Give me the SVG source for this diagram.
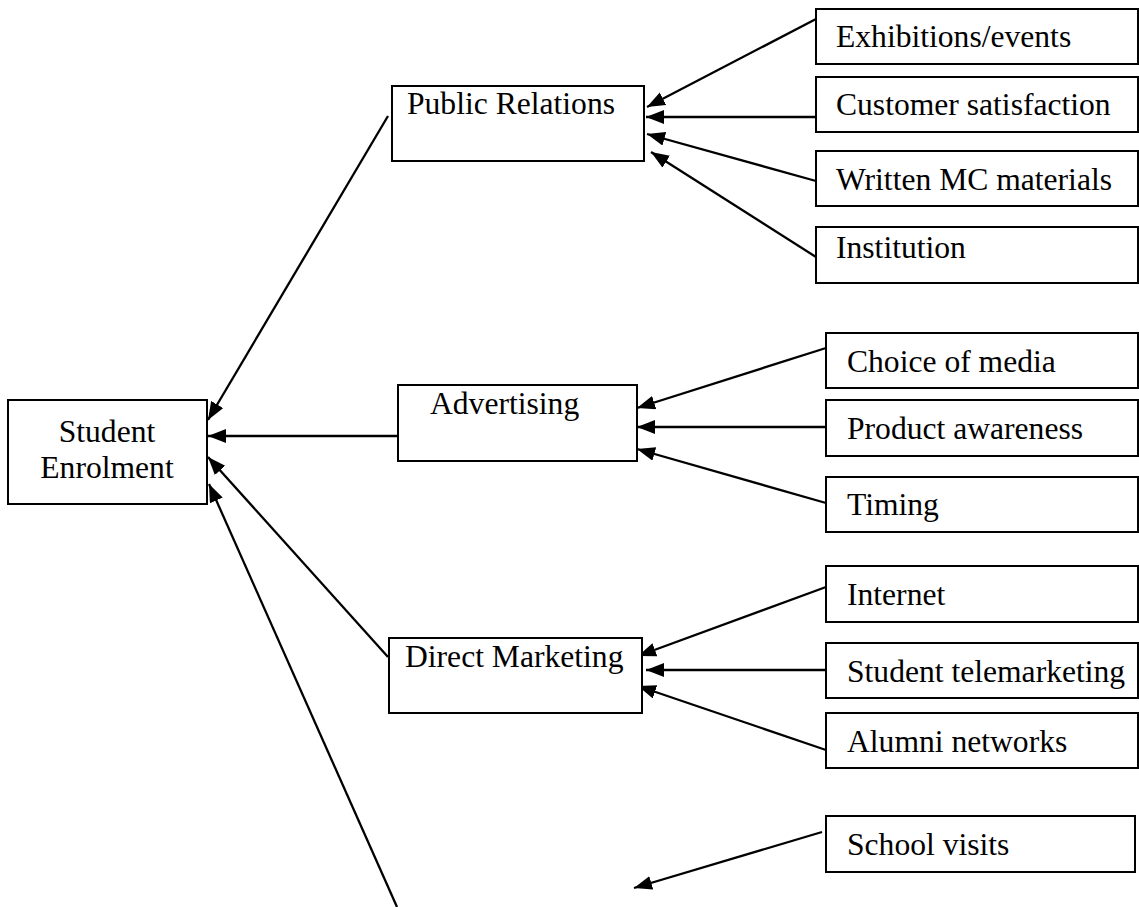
<svg xmlns="http://www.w3.org/2000/svg" width="1139" height="907" viewBox="0 0 1139 907">
<style>
.box{fill:#fff;stroke:#000;stroke-width:2}
.t{font-family:"Liberation Serif","Times New Roman",serif;font-size:31.6px;fill:#000}
.c{stroke:#000;stroke-width:2.3;fill:none;marker-end:url(#ah)}
</style>
<defs>
<marker id="ah" markerUnits="userSpaceOnUse" markerWidth="19" markerHeight="15" refX="18" refY="7" orient="auto">
<path d="M0,0 L18,7 L0,14 z" fill="#000"/>
</marker>
</defs>
<rect width="1139" height="907" fill="#fff"/>
<g id="connectors">
<line class="c" x1="388" y1="116" x2="208" y2="420"/>
<line class="c" x1="398" y1="436" x2="208" y2="436"/>
<line class="c" x1="388" y1="657" x2="208" y2="457"/>
<line class="c" x1="397" y1="907" x2="209" y2="484"/>
<line class="c" x1="816" y1="19" x2="647" y2="107"/>
<line class="c" x1="816" y1="117" x2="646" y2="117"/>
<line class="c" x1="816" y1="181" x2="647" y2="134"/>
<line class="c" x1="816" y1="257" x2="651" y2="152"/>
<line class="c" x1="826" y1="348" x2="637" y2="408"/>
<line class="c" x1="826" y1="427" x2="637" y2="427"/>
<line class="c" x1="826" y1="503" x2="637" y2="449"/>
<line class="c" x1="826" y1="587" x2="638" y2="656"/>
<line class="c" x1="826" y1="670" x2="646" y2="670"/>
<line class="c" x1="826" y1="750" x2="638" y2="686"/>
<line class="c" x1="822" y1="832" x2="634" y2="888"/>
</g>
<g id="student-enrolment">
<rect class="box" x="8" y="400" width="199" height="104"/>
<text class="t" x="107" y="442" text-anchor="middle">Student</text>
<text class="t" x="107" y="478" text-anchor="middle">Enrolment</text>
</g>
<g id="public-relations">
<rect class="box" x="392" y="86" width="252" height="75"/>
<text class="t" x="407" y="114">Public Relations</text>
</g>
<g id="advertising">
<rect class="box" x="398" y="385" width="239" height="76"/>
<text class="t" x="430" y="414">Advertising</text>
</g>
<g id="direct-marketing">
<rect class="box" x="389" y="638" width="253" height="75"/>
<text class="t" x="405" y="667">Direct Marketing</text>
</g>
<g id="exhibitions">
<rect class="box" x="816" y="9" width="322" height="55"/>
<text class="t" x="836" y="47">Exhibitions/events</text>
</g>
<g id="customer-satisfaction">
<rect class="box" x="816" y="77" width="322" height="55"/>
<text class="t" x="836" y="115">Customer satisfaction</text>
</g>
<g id="written-mc">
<rect class="box" x="816" y="151" width="322" height="55"/>
<text class="t" x="836" y="190">Written MC materials</text>
</g>
<g id="institution">
<rect class="box" x="816" y="227" width="322" height="56"/>
<text class="t" x="836" y="258">Institution</text>
</g>
<g id="choice-of-media">
<rect class="box" x="826" y="333" width="312" height="55"/>
<text class="t" x="847" y="372">Choice of media</text>
</g>
<g id="product-awareness">
<rect class="box" x="826" y="400" width="312" height="56"/>
<text class="t" x="847" y="439">Product awareness</text>
</g>
<g id="timing">
<rect class="box" x="826" y="477" width="312" height="55"/>
<text class="t" x="847" y="515">Timing</text>
</g>
<g id="internet">
<rect class="box" x="826" y="566" width="312" height="56"/>
<text class="t" x="847" y="605">Internet</text>
</g>
<g id="student-telemarketing">
<rect class="box" x="826" y="643" width="312" height="55"/>
<text class="t" x="847" y="682">Student telemarketing</text>
</g>
<g id="alumni-networks">
<rect class="box" x="826" y="713" width="312" height="55"/>
<text class="t" x="847" y="752">Alumni networks</text>
</g>
<g id="school-visits">
<rect class="box" x="826" y="816" width="309" height="56"/>
<text class="t" x="847" y="855">School visits</text>
</g>
</svg>
